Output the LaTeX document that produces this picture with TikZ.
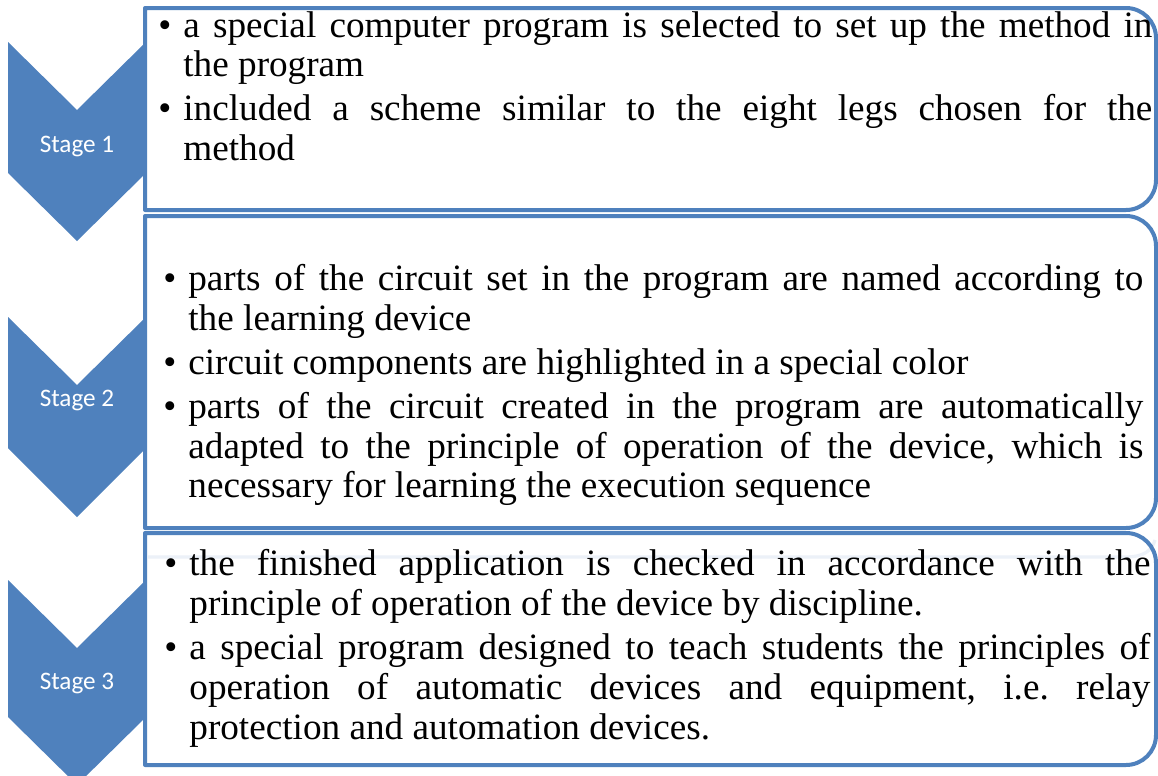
\documentclass[tikz,border=0pt]{standalone}
\usepackage{fontspec}
\setmainfont{Liberation Serif}
\newfontfamily\stagefont{Carlito}
\usepackage{tikz}
\definecolor{stageblue}{RGB}{79,129,189}
\definecolor{ghostblue}{RGB}{236,241,248}
% bullet with hanging indent, each item closed by \par
\newcommand{\bitem}{\parskip=2pt\hangindent=12.5pt\hangafter=1\noindent\makebox[12.5pt][l]{\textbullet}}
\tikzset{
  chev/.style   ={fill=stageblue, draw=none},
  boxline/.style={draw=stageblue, line width=2pt, line join=round},
  stlab/.style  ={font=\stagefont\fontsize{12.6}{15}\selectfont, text=white, inner sep=0pt},
  itm/.style    ={font=\fontsize{18.6}{20}\selectfont\frenchspacing, align=justify, inner sep=0pt, anchor=base west},
}

\begin{document}
\begin{tikzpicture}[x=0.5pt,y=-0.5pt]
  \clip (0,0) rectangle (1158,776);
  \fill[white] (0,0) rectangle (1158,776);
  % chevrons
  \fill[chev] (8,42) -- (77,110) -- (146,42) -- (146,173) -- (77,241) -- (8,173) -- cycle;
  \fill[chev] (8,317) -- (77,385) -- (146,317) -- (146,448) -- (77,517) -- (8,448) -- cycle;
  \fill[chev] (8,580) -- (77,648) -- (146,580) -- (146,717) -- (77,785) -- (8,717) -- cycle;
  \node[stlab] (sa) at (77,146) {Stage 1};
  \node[stlab] (sb) at (77,400) {Stage 2};
  \node[stlab] (sc) at (77,683) {Stage 3};
  % frames, rounded on the right only
  \draw[ghostblue,line width=1.6pt] (148,557) -- (1125,557) .. controls (1145,557) and (1152,550) .. (1155,540);
  \draw[boxline] (145,8) -- (600,8) [rounded corners=15pt] -- (1156,8) -- (1156,210) -- (600,210) [sharp corners] -- (145,210) -- cycle;
  \draw[boxline] (145,216) -- (600,216) [rounded corners=15pt] -- (1156,216) -- (1156,528) -- (600,528) [sharp corners] -- (145,528) -- cycle;
  \draw[boxline] (145,533) -- (600,533) [rounded corners=15pt] -- (1156,533) -- (1156,765) -- (600,765) [sharp corners] -- (145,765) -- cycle;
  % texts
  \node[itm, text width=497pt] (txa) at (158,37) {%
    \bitem a special computer program is selected to set up the method in\linebreak the program\par
    \bitem included a scheme similar to the eight legs chosen for the\linebreak method\par};
  \node[itm, text width=490pt] (txb) at (163,290) {%
    \bitem parts of the circuit set in the program are named according to\linebreak the learning device\par
    \bitem circuit components are highlighted in a special color\par
    \bitem parts of the circuit created in the program are automatically\linebreak adapted to the principle of operation of the device, which is\linebreak necessary for learning the execution sequence\par};
  \node[itm, text width=493pt] (txc) at (164,575) {%
    \bitem the finished application is checked in accordance with the\linebreak principle of operation of the device by discipline.\par
    \bitem a special program designed to teach students the principles of\linebreak operation of automatic devices and equipment, i.e. relay\linebreak protection and automation devices.\par};
\end{tikzpicture}
\end{document}
